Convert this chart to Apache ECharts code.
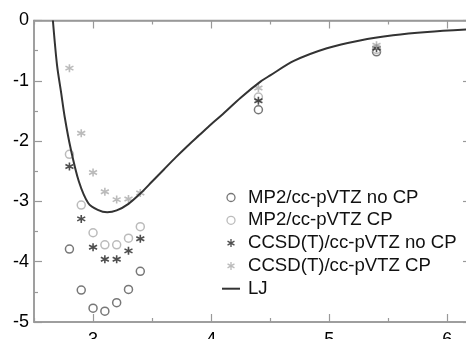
<!DOCTYPE html>
<html>
<head>
<meta charset="utf-8">
<script src="https://cdn.jsdelivr.net/npm/echarts@6/dist/echarts.min.js"></script>
<style>html,body{margin:0;padding:0;background:#fff;}#c{width:466px;height:339px;}</style>
</head>
<body>
<div id="c"></div>
<script>
const xVals = [2.8, 2.9, 3.0, 3.1, 3.2, 3.3, 3.4, 4.4, 5.4];
const mp2NoCP = [-3.79, -4.47, -4.77, -4.82, -4.68, -4.46, -4.16, -1.48, -0.52];
const mp2CP = [-2.22, -3.06, -3.52, -3.72, -3.72, -3.61, -3.42, -1.27, -0.48];
const ccsdNoCP = [-2.42, -3.29, -3.76, -3.96, -3.96, -3.82, -3.62, -1.33, -0.46];
const ccsdCP = [-0.79, -1.87, -2.52, -2.84, -2.97, -2.96, -2.86, -1.12, -0.41];
const ljX = [2.66, 2.695, 2.73, 2.76, 2.81, 2.88, 2.96, 3.04, 3.12, 3.2, 3.3, 3.4, 3.5, 3.6, 3.7, 3.8, 3.9, 4.0, 4.1, 4.25, 4.42, 4.5, 4.7, 4.98, 5.26, 5.54, 5.83, 6.2];
const ljY = [0, -0.74, -1.2, -1.6, -2.12, -2.67, -3.03, -3.14, -3.18, -3.15, -3.04, -2.87, -2.67, -2.47, -2.27, -2.08, -1.9, -1.72, -1.55, -1.28, -1.01, -0.91, -0.67, -0.46, -0.33, -0.245, -0.19, -0.145];
const xMajor = [3, 4, 5, 6];
const xMinor = [2.5, 3.5, 4.5, 5.5];
const names = ['MP2/cc-pVTZ no CP', 'MP2/cc-pVTZ CP', 'CCSD(T)/cc-pVTZ no CP', 'CCSD(T)/cc-pVTZ CP', 'LJ'];

const pair = (xs, ys) => xs.map((x, i) => [x, ys[i]]);
const FONT = "'Liberation Sans', Arial, Helvetica, sans-serif";
const AX = '#999';
const CLEAR = 'rgba(0,0,0,0)';
const star = 'path://M0,-10L0,10M-8.66,-5L8.66,5M-8.66,5L8.66,-5';

function xAxisDef(grid, pos, ticks, len, showLine, showLabel) {
  return {
    type: 'value', gridIndex: grid, min: 2.5, max: 6.2, position: pos,
    axisLine: { show: showLine, onZero: false, lineStyle: { color: AX, width: 1.5 } },
    axisTick: { show: true, inside: true, length: len, customValues: ticks, lineStyle: { color: AX, width: 1.2 } },
    axisLabel: { show: true, customValues: ticks, fontSize: 18, color: showLabel ? '#000' : CLEAR, margin: 9, fontFamily: FONT },
    splitLine: { show: false }
  };
}
function yAxisDef(grid, pos, showLine, showLabel) {
  return {
    type: 'value', gridIndex: grid, min: -5, max: 0, interval: 1, position: pos,
    axisLine: { show: showLine, onZero: false, lineStyle: { color: AX, width: 1.5 } },
    axisTick: { show: showLine, inside: true, length: 8, lineStyle: { color: AX, width: 1.2 } },
    minorTick: { show: showLine, splitNumber: 2, length: 4, lineStyle: { color: AX, width: 1.2 } },
    axisLabel: { show: true, fontSize: 18, color: showLabel ? '#000' : CLEAR, margin: 5, fontFamily: FONT },
    splitLine: { show: false }
  };
}

const chart = echarts.init(document.getElementById('c'), null, { renderer: 'canvas' });
chart.setOption({
  animation: false,
  grid: [
    { left: 34, right: -5, top: 20.5, bottom: 17, outerBoundsMode: 'none',
      show: true, backgroundColor: CLEAR, borderColor: AX, borderWidth: 1.5 },
    { left: 34, right: -5, top: 20.5, bottom: 17, outerBoundsMode: 'none' }
  ],
  xAxis: [
    xAxisDef(0, 'bottom', xMajor, 8, true, true),
    xAxisDef(0, 'top', xMajor, 8, true, false),
    xAxisDef(1, 'bottom', xMinor, 4, false, false),
    xAxisDef(1, 'top', xMinor, 4, false, false)
  ],
  yAxis: [
    yAxisDef(0, 'left', true, true),
    yAxisDef(0, 'right', true, false),
    yAxisDef(1, 'left', false, false)
  ],
  legend: {
    orient: 'vertical', left: 217, top: 183, itemWidth: 18, itemHeight: 8, itemGap: 3.8,
    textStyle: { fontSize: 18.6, color: '#111', fontFamily: FONT, lineHeight: 18, padding: [0, 0, 0, 3] },
    data: [
      { name: names[0], icon: 'circle', itemStyle: { color: CLEAR, borderColor: '#555', borderWidth: 1.3 } },
      { name: names[1], icon: 'circle', itemStyle: { color: CLEAR, borderColor: '#aaa', borderWidth: 1.3 } },
      { name: names[2], icon: star, itemStyle: { color: CLEAR, borderColor: '#222', borderWidth: 1.3 } },
      { name: names[3], icon: star, itemStyle: { color: CLEAR, borderColor: '#aaa', borderWidth: 1.3 } },
      { name: names[4], icon: 'path://M0,0h18v2h-18z', itemStyle: { color: '#333', borderWidth: 0 } }
    ]
  },
  series: [
    { name: names[0], type: 'scatter', data: pair(xVals, mp2NoCP), symbol: 'circle', symbolSize: 8,
      itemStyle: { color: CLEAR, borderColor: '#555', borderWidth: 1.5 } },
    { name: names[1], type: 'scatter', data: pair(xVals, mp2CP), symbol: 'circle', symbolSize: 8,
      itemStyle: { color: CLEAR, borderColor: '#aaa', borderWidth: 1.5 } },
    { name: names[2], type: 'scatter', data: pair(xVals, ccsdNoCP), symbol: star, symbolSize: 8,
      itemStyle: { color: CLEAR, borderColor: '#222', borderWidth: 1.6 } },
    { name: names[3], type: 'scatter', data: pair(xVals, ccsdCP), symbol: star, symbolSize: 8,
      itemStyle: { color: CLEAR, borderColor: '#aaa', borderWidth: 1.6 } },
    { name: names[4], type: 'line', data: pair(ljX, ljY), smooth: 0.3, showSymbol: false, symbol: 'none',
      clip: true, lineStyle: { color: '#333', width: 2 }, itemStyle: { color: '#333' } }
  ]
});
</script>
</body>
</html>
